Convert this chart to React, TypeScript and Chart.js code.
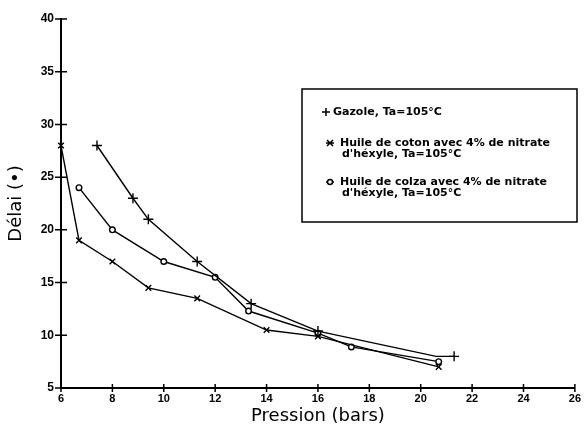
import React, { useEffect, useRef } from "react";
import { Chart, registerables } from "chart.js";

Chart.register(...registerables);

const GAZOLE_X = [7.4, 8.8, 9.4, 11.3, 13.4, 16, 20.6, 21.3];
const GAZOLE_Y = [28, 23, 21, 17, 13, 10.4, 8.0, 8.0];
const GAZOLE_MARKED = [true, true, true, true, true, true, false, true];
const COTON_X = [6, 6.7, 8, 9.4, 11.3, 14, 16, 20.7];
const COTON_Y = [28, 19, 17, 14.5, 13.5, 10.5, 9.9, 7];
const COLZA_X = [6.7, 8, 10, 12, 13.3, 16, 17.3, 20.7];
const COLZA_Y = [24, 20, 17, 15.5, 12.3, 10.2, 8.9, 7.5];

const X_TICKS = [6, 8, 10, 12, 14, 16, 18, 20, 22, 24, 26];
const Y_TICKS = [5, 10, 15, 20, 25, 30, 35, 40];

const X_TITLE = "Pression (bars)";
const Y_TITLE = "Délai (•)";

const LEGEND_GAZOLE = ["Gazole, Ta=105°C"];
const LEGEND_COTON = ["Huile de coton avec 4% de nitrate", "d'héxyle, Ta=105°C"];
const LEGEND_COLZA = ["Huile de colza avec 4% de nitrate", "d'héxyle, Ta=105°C"];

const toPts = (xs: number[], ys: number[]) => xs.map((x, i) => ({ x, y: ys[i] }));

const tickMarks = {
  id: "tickMarks",
  afterDraw(chart: any) {
    const { ctx } = chart;
    const xs = chart.scales.x;
    const ys = chart.scales.y;
    const area = chart.chartArea;
    ctx.save();
    ctx.strokeStyle = "#000";
    ctx.lineWidth = 1.5;
    ctx.beginPath();
    X_TICKS.forEach((v) => {
      const px = xs.getPixelForValue(v);
      ctx.moveTo(px, area.bottom - 4);
      ctx.lineTo(px, area.bottom + 4);
    });
    Y_TICKS.forEach((v) => {
      const py = ys.getPixelForValue(v);
      ctx.moveTo(area.left - 6, py);
      ctx.lineTo(area.left + 6, py);
    });
    ctx.stroke();
    ctx.restore();
  },
};

const legendBox = {
  id: "legendBox",
  afterDraw(chart: any) {
    const { ctx } = chart;
    ctx.save();
    ctx.strokeStyle = "#000";
    ctx.fillStyle = "#000";
    ctx.lineWidth = 1.5;
    ctx.strokeRect(302, 89, 275, 133);
    ctx.font = "bold 11px 'DejaVu Sans'";
    ctx.textBaseline = "middle";
    ctx.textAlign = "left";
    ctx.beginPath();
    ctx.moveTo(322, 112);
    ctx.lineTo(330, 112);
    ctx.moveTo(326, 108);
    ctx.lineTo(326, 116);
    ctx.stroke();
    ctx.fillText(LEGEND_GAZOLE[0], 333, 112);
    const cx = 330, cy = 143;
    ctx.beginPath();
    ctx.moveTo(cx - 4, cy);
    ctx.lineTo(cx + 4, cy);
    ctx.moveTo(cx - 3, cy - 3);
    ctx.lineTo(cx + 3, cy + 3);
    ctx.moveTo(cx - 3, cy + 3);
    ctx.lineTo(cx + 3, cy - 3);
    ctx.stroke();
    ctx.fillText(LEGEND_COTON[0], 340, 143);
    ctx.fillText(LEGEND_COTON[1], 342, 154);
    const ox = 330, oy = 182;
    ctx.beginPath();
    ctx.moveTo(ox - 4, oy);
    ctx.lineTo(ox + 4, oy);
    ctx.stroke();
    ctx.beginPath();
    ctx.arc(ox, oy, 2.5, 0, Math.PI * 2);
    ctx.fillStyle = "#fff";
    ctx.fill();
    ctx.stroke();
    ctx.fillStyle = "#000";
    ctx.fillText(LEGEND_COLZA[0], 340, 182);
    ctx.fillText(LEGEND_COLZA[1], 342, 193);
    ctx.restore();
  },
};

export default function App() {
  const ref = useRef<HTMLCanvasElement | null>(null);
  useEffect(() => {
    document.body.style.margin = "0";
    const canvas = ref.current;
    if (!canvas) return;
    const lineDs = (label: string, data: any[], style: string, radius: any, bg: string) => ({
      label,
      data,
      borderColor: "#000",
      backgroundColor: bg,
      borderWidth: 1.4,
      pointStyle: style,
      pointRadius: radius,
      pointBorderColor: "#000",
      pointBackgroundColor: bg,
      pointBorderWidth: 1.4,
      tension: 0,
      clip: false as any,
    });
    const chart = new Chart(canvas, {
      type: "line",
      data: {
        datasets: [
          lineDs(
            LEGEND_GAZOLE[0],
            toPts(GAZOLE_X, GAZOLE_Y),
            "cross",
            GAZOLE_MARKED.map((m) => (m ? 5 : 0)),
            "#000"
          ),
          lineDs(LEGEND_COTON.join(" "), toPts(COTON_X, COTON_Y), "crossRot", 4, "#000"),
          lineDs(LEGEND_COLZA.join(" "), toPts(COLZA_X, COLZA_Y), "circle", 2.8, "#fff"),
        ],
      },
      options: {
        animation: false,
        responsive: false,
        devicePixelRatio: 1,
        layout: { padding: { left: 0, right: 10, top: 19, bottom: 0 } },
        plugins: { legend: { display: false }, tooltip: { enabled: false } },
        scales: {
          x: {
            type: "linear",
            min: 6,
            max: 26,
            afterFit: (s: any) => {
              s.height = 45;
            },
            afterBuildTicks: (s: any) => {
              s.ticks = X_TICKS.map((v) => ({ value: v }));
            },
            grid: { display: false, drawTicks: false },
            border: { display: true, color: "#000", width: 2 },
            ticks: {
              color: "#000",
              padding: 4,
              maxRotation: 0,
              autoSkip: false,
              font: { family: "'Liberation Sans', Arial", size: 11, weight: "bold" },
            },
            title: {
              display: true,
              text: X_TITLE,
              color: "#000",
              padding: { top: 0, bottom: 6 },
              font: { family: "'DejaVu Sans'", size: 18 },
            },
          },
          y: {
            type: "linear",
            min: 5,
            max: 40,
            afterFit: (s: any) => {
              s.width = 61;
            },
            afterBuildTicks: (s: any) => {
              s.ticks = Y_TICKS.map((v) => ({ value: v }));
            },
            grid: { display: false, drawTicks: false },
            border: { display: true, color: "#000", width: 2 },
            ticks: {
              color: "#000",
              padding: 7,
              autoSkip: false,
              font: { family: "'Liberation Sans', Arial", size: 12, weight: "bold" },
            },
            title: {
              display: true,
              text: Y_TITLE,
              color: "#000",
              padding: { top: 6, bottom: 0 },
              font: { family: "'DejaVu Sans'", size: 18 },
            },
          },
        },
      },
      plugins: [tickMarks, legendBox],
    });
    return () => chart.destroy();
  }, []);
  return (
    <div style={{ width: 585, height: 433, background: "#fff" }}>
      <canvas ref={ref} width={585} height={433} style={{ display: "block" }} />
    </div>
  );
}
